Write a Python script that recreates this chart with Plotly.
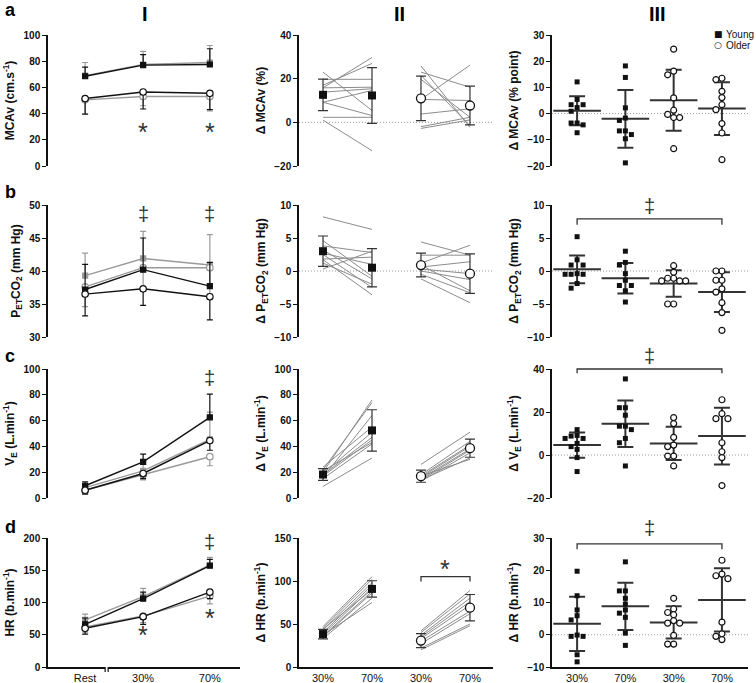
import plotly.graph_objects as go

BLACK = "#111111"
GRAY = "#9a9a9a"
LINEGRAY = "#8c8c8c"
FONT = "Liberation Sans, Arial, sans-serif"

stages = ["Rest", "30%", "70%"]
groups = ["30%", "70%", "30%", "70%"]

# ---------- column I : absolute values (black / gray conditions) ----------
mcav_yb = [68.5, 77, 77.5];   mcav_yb_sd = [7, 8, 12]
mcav_yg = [69, 77.5, 79];     mcav_yg_sd = [10, 10, 13]
mcav_ob = [51.5, 56.5, 55.5]; mcav_ob_sd = [12, 13, 12.5]
mcav_og = [50.5, 53, 53];     mcav_og_sd = [10.5, 7, 11]

petco2_yb = [37.2, 40.2, 37.7]; petco2_yb_sd = [3.8, 4.8, 3.6]
petco2_yg = [39.3, 41.9, 40.9]; petco2_yg_sd = [3.4, 4.1, 4.6]
petco2_ob = [36.5, 37.3, 36.1]; petco2_ob_sd = [3.3, 2.5, 3.5]
petco2_og = [37.6, 40.5, 40.5]; petco2_og_sd = [3, 3.5, 4]

ve_yb = [9.5, 28, 62.5]; ve_yb_sd = [3, 6, 18]
ve_yg = [8, 21, 45.5];   ve_yg_sd = [2.5, 5, 21]
ve_ob = [6, 19, 44.5];   ve_ob_sd = [3, 4, 7.5]
ve_og = [6, 18, 32];     ve_og_sd = [2.5, 4, 7]

hr_yb = [66, 106, 157]; hr_yb_sd = [10, 10, 10]
hr_yg = [73, 109, 158]; hr_yg_sd = [9, 13, 12]
hr_ob = [60, 78, 116];  hr_ob_sd = [9, 12, 10]
hr_og = [62, 79, 110];  hr_og_sd = [8, 10, 12]

# ---------- column II : change from rest, individual subjects ----------
d_mcav_y30 = [23, 15.8, 17, 19.7, 15.8, 13.8, 9.2, 9.2, 2.3, 1]
d_mcav_y70 = [5.4, 29.7, 27, 19.7, 16.1, 15.4, 14.6, 3.1, 2.3, -13]
d_mcav_o30 = [25.8, 23, 19.7, 10.5, 10.5, 3.8, -2, -2.8, 21.5]
d_mcav_o70 = [-2.3, 16.1, 2.3, 26.2, 10, 6.2, 2.3, 1.1, -1.5]
d_mcav_mean = [12.6, 12.3, 11, 7.7]; d_mcav_sd = [7.2, 12.8, 10.2, 8.9]

d_petco2_y30 = [8.2, 4.6, 3.8, 3.2, 2.5, 1.8, 1.7, 1.2, 0.3, 2.7]
d_petco2_y70 = [6.3, -0.8, 2.8, -1.2, -2.5, 2.1, -3.6, -2.0, 3.0, 1.0]
d_petco2_o30 = [4.4, 2.4, 1.2, 0.6, 0.3, 0, -0.5, -1.2, 0.9]
d_petco2_o70 = [2.4, 2.4, 3.9, 1.4, -0.4, -1.3, -3.3, -4.8, -3.0]
d_petco2_mean = [3.0, 0.5, 0.9, -0.4]; d_petco2_sd = [2.3, 2.9, 1.8, 3.0]

d_ve_y30 = [20, 22, 16, 24, 19, 18, 17, 21, 15, 9]
d_ve_y70 = [76, 74, 64, 55, 51, 47, 45, 43, 42, 31]
d_ve_o30 = [26, 18, 17, 16, 15, 14, 13, 14, 17]
d_ve_o70 = [51, 44, 41, 40, 38, 37, 35, 31, 30]
d_ve_mean = [18.2, 52.4, 16.9, 38.6]; d_ve_sd = [4.5, 16, 4.7, 7]

d_hr_y30 = [47, 45, 43, 40, 38, 36, 35, 33, 37, 44]
d_hr_y70 = [105, 102, 98, 95, 92, 88, 86, 80, 75, 90]
d_hr_o30 = [42, 40, 37, 35, 33, 30, 27, 22, 20]
d_hr_o70 = [89, 85, 80, 76, 72, 65, 62, 50, 48]
d_hr_mean = [38.3, 90.8, 30.7, 69]; d_hr_sd = [5.5, 9.5, 8.2, 15.3]

# ---------- column III : difference between conditions ----------
pp_mcav = [[12.1, 5.4, 3.4, 3.4, 2.3, 0.9, -3.6, -3.6, -4.3, -7.3],
           [18.2, 13.8, 2.2, -1.7, -2.6, -6.6, -6.6, -8, -9.6, -18.8],
           [24.6, 16.2, 14.8, 6, 1.3, -0.3, -1.5, -1.5, -13.4],
           [13.5, 13, 8.5, 6.1, 3.4, 1.5, -3.8, -7.4, -17.6]]
pp_mcav_mean = [1.1, -2.0, 5.1, 1.9]; pp_mcav_sd = [5.5, 11, 11.6, 10.1]

pp_petco2 = [[5.2, 1.7, 0.9, 0.9, -0.4, -0.5, -0.5, -0.5, -1.9, -2.6],
             [3.0, 1.3, 0.9, -0.4, -1.4, -2.2, -2.2, -3.0, -4.7],
             [0.8, -0.2, -1.1, -1.1, -1.5, -1.5, -1.5, -5.0, -5.0],
             [0, 0, -1.4, -1.4, -2.7, -3.2, -4.8, -6.3, -9.0]]
pp_petco2_mean = [0.26, -1.1, -1.9, -3.2]; pp_petco2_sd = [2.1, 2.3, 2.0, 3.0]

pp_ve = [[11.8, 9.1, 8.8, 7.7, 7.7, 5.4, 3.9, 2.6, -1.2, -7.7],
         [35.4, 22, 22, 18.5, 13.4, 13.4, 11.8, 7.7, 5.7, -5.1],
         [17.4, 14.6, 8.2, 4.6, 3.9, -0.5, -0.5, -5.1],
         [25.7, 19.2, 16.9, 16.9, 5.7, 1.5, -1.2, -14.2]]
pp_ve_mean = [4.6, 14.5, 5.4, 8.8]; pp_ve_sd = [5.9, 10.8, 7.7, 13.2]

pp_hr = [[19.7, 12.1, 7.7, 5.9, 4.6, -0.1, -0.5, -0.5, -6.2, -8.4],
         [22.6, 13.6, 13.6, 11.3, 9.5, 7.7, 6.7, 5.4, 0.5, -3.3],
         [11.3, 8.0, 6.9, 6.2, 4.4, 3.6, 3.6, -0.2, -2.9, -2.9],
         [23.1, 18.8, 18.3, 17.4, 3.9, 0.3, -0.5, -1.5]]
pp_hr_mean = [3.4, 8.8, 3.8, 10.8]; pp_hr_sd = [8.4, 7.3, 5.0, 9.8]

# ---------- layout geometry ----------
W, H = 756, 683
col_dom = [(48 / W, 240 / W), (299 / W, 493 / W), (552 / W, 748 / W)]
row_px = [(35, 166), (205, 337), (369, 498), (538, 667)]
row_dom = [(1 - b / H, 1 - t / H) for t, b in row_px]
stage_x = [0, 1, 2.15]
x_ranges = [(-0.64, 2.67), (0.51, 4.47), (0.48, 4.54)]
y_ranges = [[(0, 100), (-20, 40), (-20, 30)],
            [(30, 50), (-10, 10), (-10, 10)],
            [(0, 100), (0, 100), (-20, 40)],
            [(0, 200), (0, 150), (-10, 30)]]
y_dtick = [[20, 20, 10], [5, 5, 5], [20, 20, 20], [50, 50, 10]]
y_titles = [["MCAv (cm.s<sup>-1</sup>)", "Δ MCAv (%)", "Δ MCAv (% point)"],
            ["P<sub>ET</sub>CO<sub>2</sub> (mm Hg)", "Δ P<sub>ET</sub>CO<sub>2</sub> (mm Hg)",
             "Δ P<sub>ET</sub>CO<sub>2</sub> (mm Hg)"],
            ["V<sub>E</sub> (L.min<sup>-1</sup>)", "Δ V<sub>E</sub> (L.min<sup>-1</sup>)",
             "Δ V<sub>E</sub> (L.min<sup>-1</sup>)"],
            ["HR (b.min<sup>-1</sup>)", "Δ HR (b.min<sup>-1</sup>)", "Δ HR (b.min<sup>-1</sup>)"]]


def ax(r, c):
    k = r * 3 + c + 1
    return ("x" if k == 1 else f"x{k}"), ("y" if k == 1 else f"y{k}")


def to_paper(r, c, x, y):
    (d0, d1), (e0, e1) = col_dom[c], row_dom[r]
    (x0, x1), (y0, y1) = x_ranges[c], y_ranges[r][c]
    return d0 + (x - x0) / (x1 - x0) * (d1 - d0), e0 + (y - y0) / (y1 - y0) * (e1 - e0)


def swarm(vals, r, step=6.0, xunit=48.3):
    y0, y1 = y_ranges[r][2]
    ppu = (row_px[r][1] - row_px[r][0]) / (y1 - y0)
    placed, offs = [], []
    for v in vals:
        yp = v * ppu
        for k in [0, -1, 1, -2, 2, -3, 3]:
            xo = k * step
            if all((xo - px) ** 2 + (yp - py) ** 2 >= (step * 0.95) ** 2 for py, px in placed):
                break
        placed.append((yp, xo))
        offs.append(xo / xunit)
    return offs


fig = go.Figure()

col1 = [
    (mcav_yb, mcav_yb_sd, mcav_yg, mcav_yg_sd, mcav_ob, mcav_ob_sd, mcav_og, mcav_og_sd),
    (petco2_yb, petco2_yb_sd, petco2_yg, petco2_yg_sd, petco2_ob, petco2_ob_sd, petco2_og, petco2_og_sd),
    (ve_yb, ve_yb_sd, ve_yg, ve_yg_sd, ve_ob, ve_ob_sd, ve_og, ve_og_sd),
    (hr_yb, hr_yb_sd, hr_yg, hr_yg_sd, hr_ob, hr_ob_sd, hr_og, hr_og_sd),
]
col2 = [
    (d_mcav_y30, d_mcav_y70, d_mcav_o30, d_mcav_o70, d_mcav_mean, d_mcav_sd),
    (d_petco2_y30, d_petco2_y70, d_petco2_o30, d_petco2_o70, d_petco2_mean, d_petco2_sd),
    (d_ve_y30, d_ve_y70, d_ve_o30, d_ve_o70, d_ve_mean, d_ve_sd),
    (d_hr_y30, d_hr_y70, d_hr_o30, d_hr_o70, d_hr_mean, d_hr_sd),
]
col3 = [
    (pp_mcav, pp_mcav_mean, pp_mcav_sd),
    (pp_petco2, pp_petco2_mean, pp_petco2_sd),
    (pp_ve, pp_ve_mean, pp_ve_sd),
    (pp_hr, pp_hr_mean, pp_hr_sd),
]

for r in range(4):
    # --- column I ---
    yb, ybsd, yg, ygsd, ob, obsd, og, ogsd = col1[r]
    xa, ya = ax(r, 0)
    zeros = [0, 0, 0]
    series = [
        (yg, ygsd, True, GRAY, "square", GRAY, 5),
        (og, ogsd, False, GRAY, "circle", "white", 6.5),
        (yb, ybsd, True, BLACK, "square", BLACK, 5),
        (ob, obsd, False, BLACK, "circle", "white", 6.5),
    ]
    for vals, sd, up, colr, sym, fill, size in series:
        fig.add_trace(go.Scatter(
            x=stage_x, y=vals, xaxis=xa, yaxis=ya, mode="lines+markers", cliponaxis=False,
            line=dict(color=colr, width=1.4),
            marker=dict(symbol=sym, size=size, color=fill, line=dict(color=colr, width=1.2)),
            error_y=dict(type="data", symmetric=False, array=sd if up else zeros,
                         arrayminus=zeros if up else sd, color=colr, thickness=1.2, width=3),
        ))

    # --- column II ---
    y30, y70, o30, o70, mean, sd = col2[r]
    xa, ya = ax(r, 1)
    lx, ly = [], []
    for a, b in zip(y30, y70):
        lx += [1, 2, None]; ly += [a, b, None]
    for a, b in zip(o30, o70):
        lx += [3, 4, None]; ly += [a, b, None]
    fig.add_trace(go.Scatter(x=lx, y=ly, xaxis=xa, yaxis=ya, mode="lines",
                             line=dict(color=LINEGRAY, width=1), cliponaxis=False))
    fig.add_trace(go.Scatter(
        x=[1, 2], y=mean[:2], xaxis=xa, yaxis=ya, mode="markers", cliponaxis=False,
        marker=dict(symbol="square", size=8, color=BLACK),
        error_y=dict(type="data", array=sd[:2], color="#333333", thickness=1.2, width=5)))
    fig.add_trace(go.Scatter(
        x=[3, 4], y=mean[2:], xaxis=xa, yaxis=ya, mode="markers", cliponaxis=False,
        marker=dict(symbol="circle", size=9, color="white", line=dict(color=BLACK, width=1.3)),
        error_y=dict(type="data", array=sd[2:], color="#333333", thickness=1.2, width=5)))

    # --- column III ---
    pts, mean, sd = col3[r]
    xa, ya = ax(r, 2)
    fig.add_trace(go.Scatter(
        x=[1, 2, 3, 4], y=mean, xaxis=xa, yaxis=ya, mode="markers", cliponaxis=False,
        marker=dict(symbol="line-ew", size=34, line=dict(color="#333333", width=2)),
        error_y=dict(type="data", array=sd, color="#333333", thickness=2, width=8)))
    for g, vals in enumerate(pts):
        offs = swarm(vals, r)
        older = g >= 2
        fig.add_trace(go.Scatter(
            x=[g + 1 + o for o in offs], y=vals, xaxis=xa, yaxis=ya, mode="markers",
            cliponaxis=False,
            marker=dict(symbol="circle" if older else "square", size=6 if older else 5,
                        color="white" if older else BLACK,
                        line=dict(color=BLACK, width=1.2 if older else 0))))

layout = dict(width=W, height=H, margin=dict(l=0, r=0, t=0, b=0, autoexpand=False),
              paper_bgcolor="white", plot_bgcolor="white", showlegend=False,
              font=dict(family=FONT, color=BLACK))

for r in range(4):
    for c in range(3):
        k = r * 3 + c + 1
        xs = "xaxis" if k == 1 else f"xaxis{k}"
        ys = "yaxis" if k == 1 else f"yaxis{k}"
        xa, ya = ax(r, c)
        y0, y1 = y_ranges[r][c]
        last = r == 3
        if c == 0:
            tv, tt = stage_x, stages
        else:
            tv, tt = [1, 2, 3, 4], groups
        layout[xs] = dict(domain=list(col_dom[c]), anchor=ya, range=list(x_ranges[c]),
                          automargin=False, showgrid=False, zeroline=False, showline=last,
                          linecolor=BLACK, linewidth=1.5, ticks="", tickvals=tv, ticktext=tt,
                          showticklabels=last, tickfont=dict(size=11, family=FONT, color=BLACK))
        layout[ys] = dict(domain=list(row_dom[r]), anchor=xa, range=[y0, y1], automargin=False,
                          tick0=y0, dtick=y_dtick[r][c], showgrid=False, zeroline=False,
                          showline=True, linecolor=BLACK, linewidth=1.5, ticks="outside",
                          ticklen=4, tickwidth=1.2, tickcolor=BLACK,
                          tickfont=dict(size=10, family=FONT, color=BLACK, weight="bold"),
                          title=dict(text=y_titles[r][c], standoff=6,
                                     font=dict(size=12, family=FONT, color=BLACK, weight="bold")))

shapes = []
# dotted zero lines
for r, c in [(0, 1), (1, 1), (0, 2), (1, 2), (2, 2), (3, 2)]:
    xa, ya = ax(r, c)
    shapes.append(dict(type="line", xref=f"{xa} domain", x0=0, x1=1, yref=ya, y0=0, y1=0,
                       line=dict(color="#999999", width=1, dash="1px,2px"), layer="below"))


def bracket(r, c, xa0, xa1, y, drop):
    p0 = to_paper(r, c, xa0, y)
    p1 = to_paper(r, c, xa1, y)
    q0 = to_paper(r, c, xa0, y - drop)
    path = f"M{p0[0]},{q0[1]} L{p0[0]},{p0[1]} L{p1[0]},{p1[1]} L{p1[0]},{q0[1]}"
    shapes.append(dict(type="path", xref="paper", yref="paper", path=path,
                       line=dict(color="#333333", width=1.3)))


bracket(1, 2, 1, 4, 7.9, 0.9)
bracket(2, 2, 1, 4, 40, 2.0)
bracket(3, 2, 1, 4, 28.2, 1.7)
bracket(3, 1, 3, 4, 105, 5.5)

# broken x axis in column I, row d
g0 = to_paper(3, 0, 0.345, 0)
g1 = to_paper(3, 0, 0.397, 0)
shapes.append(dict(type="rect", xref="paper", yref="paper", x0=g0[0], x1=g1[0],
                   y0=g0[1] - 0.004, y1=g0[1] + 0.004, fillcolor="white", line=dict(width=0),
                   layer="above"))
for gx in (g0[0], g1[0]):
    shapes.append(dict(type="line", xref="paper", yref="paper", x0=gx, x1=gx,
                       y0=g0[1], y1=g0[1] - 5 / H, line=dict(color=BLACK, width=1.2)))
layout["shapes"] = shapes

ann = []
for txt, py in [("a", 10), ("b", 192), ("c", 356), ("d", 527)]:
    ann.append(dict(text=txt, x=3 / W, y=1 - py / H, xref="paper", yref="paper",
                    xanchor="left", yanchor="middle", showarrow=False,
                    font=dict(size=18, family=FONT, color="#000000", weight="bold")))
for txt, px in [("I", 145), ("II", 399), ("III", 657)]:
    ann.append(dict(text=txt, x=px / W, y=1 - 14 / H, xref="paper", yref="paper",
                    xanchor="center", yanchor="middle", showarrow=False,
                    font=dict(size=20, family=FONT, color="#000000", weight="bold")))


def sym(r, c, x, y, txt, size):
    px, py = to_paper(r, c, x, y)
    ann.append(dict(text=txt, x=px, y=py, xref="paper", yref="paper", showarrow=False,
                    xanchor="center", yanchor="middle",
                    font=dict(size=size, family=FONT, color="#333333")))


STAR, DAG = "*", "‡"
sym(0, 0, stage_x[1], 26, STAR, 25)
sym(0, 0, stage_x[2], 26, STAR, 25)
sym(1, 0, stage_x[1], 48.6, DAG, 20)
sym(1, 0, stage_x[2], 48.6, DAG, 20)
sym(2, 0, stage_x[2], 93, DAG, 20)
sym(3, 0, stage_x[2], 194, DAG, 20)
sym(3, 0, stage_x[1], 50, STAR, 25)
sym(3, 0, stage_x[2], 76, STAR, 25)
sym(3, 1, 3.5, 114, STAR, 25)
sym(1, 2, 2.5, 9.8, DAG, 20)
sym(2, 2, 2.5, 46, DAG, 20)
sym(3, 2, 2.5, 33, DAG, 20)

# legend (panel a-III)
for txt, py, mk in [("Young", 34, "■"), ("Older", 45, "○")]:
    ann.append(dict(text=mk, x=718 / W, y=1 - py / H, xref="paper", yref="paper",
                    xanchor="center", yanchor="middle", showarrow=False,
                    font=dict(size=9, family="DejaVu Sans", color=BLACK)))
    ann.append(dict(text=txt, x=724 / W, y=1 - py / H, xref="paper", yref="paper",
                    xanchor="left", yanchor="middle", showarrow=False,
                    font=dict(size=10, family=FONT, color=BLACK)))
layout["annotations"] = ann

fig.update_layout(**layout)
# the page body has a default 8px margin; remove it so the figure sits at (0, 0)
fig.write_html("out.html", config={"displayModeBar": False},
               post_script="document.body.style.margin='0';")
